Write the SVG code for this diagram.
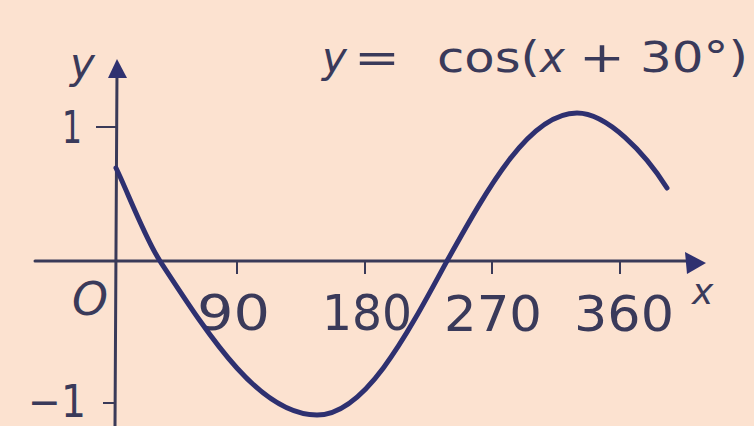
<svg xmlns="http://www.w3.org/2000/svg" width="754" height="426" viewBox="0 0 754 426">
  <style>
    .ax { stroke: #3a3a58; stroke-width: 3; fill: none; stroke-linecap: round; }
    .tick { stroke: #3a3a58; stroke-width: 2; fill: none; }
    .head { fill: #2f3170; }
    .curve { stroke: #2e3070; stroke-width: 5; fill: none; stroke-linecap: round; stroke-linejoin: round; }
    .t { font-family: "DejaVu Sans", "Liberation Sans", sans-serif; fill: #3a3a5a; }
    .it { font-style: italic; }
  </style>
  <rect width="754" height="426" fill="#fce2d0"/>
  <g id="axes">
    <line class="ax" x1="35" y1="261" x2="690" y2="261"/>
    <polygon class="head" points="706,263 685,252 687,274"/>
    <line class="ax" x1="117" y1="70" x2="115" y2="426"/>
    <polygon class="head" points="117,59 108,78 127,78"/>
    <line class="tick" x1="237" y1="261" x2="237" y2="274"/>
    <line class="tick" x1="365" y1="261" x2="365" y2="274"/>
    <line class="tick" x1="492" y1="261" x2="492" y2="274"/>
    <line class="tick" x1="620" y1="261" x2="620" y2="274"/>
    <line class="tick" x1="96" y1="127" x2="116" y2="127"/>
    <line class="tick" x1="103" y1="403" x2="115" y2="403"/>
  </g>
  <g id="labels">
    <text class="t it" x="70" y="78" font-size="42">y</text>
    <text class="t" x="62" y="143" font-size="44" textLength="20" lengthAdjust="spacingAndGlyphs">1</text>
    <text class="t it" x="72" y="315" font-size="46" textLength="36" lengthAdjust="spacingAndGlyphs">O</text>
    <text class="t" x="28" y="417" font-size="44" textLength="58" lengthAdjust="spacingAndGlyphs">−1</text>
    <text class="t" x="197" y="330" font-size="50" textLength="73" lengthAdjust="spacingAndGlyphs">90</text>
    <text class="t" x="322" y="330" font-size="50" textLength="90" lengthAdjust="spacingAndGlyphs">180</text>
    <text class="t" x="444" y="331" font-size="50" textLength="98" lengthAdjust="spacingAndGlyphs">270</text>
    <text class="t" x="574" y="331" font-size="50" textLength="100" lengthAdjust="spacingAndGlyphs">360</text>
    <text class="t it" x="692" y="304" font-size="36">x</text>
    <g id="title">
      <text class="t it" x="322" y="72" font-size="42">y</text>
      <text class="t" x="354" y="72" font-size="42" textLength="46" lengthAdjust="spacingAndGlyphs">=</text>
      <text class="t" x="437" y="72" font-size="42" textLength="103" lengthAdjust="spacingAndGlyphs">cos(</text>
      <text class="t it" x="540" y="72" font-size="42">x</text>
      <text class="t" x="579" y="72" font-size="42" textLength="46" lengthAdjust="spacingAndGlyphs">+</text>
      <text class="t" x="640" y="72" font-size="42" textLength="108" lengthAdjust="spacingAndGlyphs">30°)</text>
    </g>
  </g>
  <g id="graph">
    <path class="curve" d="M116,168 C126,188 145,238 160,261 C211.2,339.4 260.2,415 317,415 C364,415 404.6,339.4 447,261 C489.4,185.2 530,113 577,113 C607,113 645,153 667,188"/>
  </g>
</svg>
